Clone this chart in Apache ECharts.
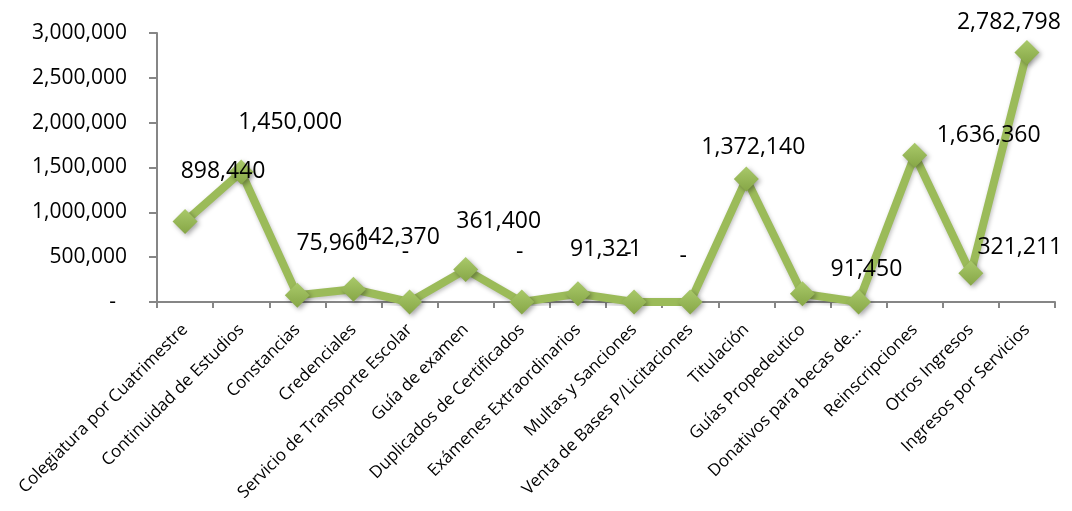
<!DOCTYPE html>
<html>
<head>
<meta charset="utf-8">
<script src="https://cdn.jsdelivr.net/npm/echarts@6/dist/echarts.min.js"></script>
<style>
html,body{margin:0;padding:0;background:#fff;}
#chart{width:1072px;height:511px;}
</style>
</head>
<body>
<div id="chart"></div>
<script>
const categories = [
  "Colegiatura por Cuatrimestre",
  "Continuidad de Estudios",
  "Constancias",
  "Credenciales",
  "Servicio de Transporte Escolar",
  "Guía de examen",
  "Duplicados de Certificados",
  "Exámenes Extraordinarios",
  "Multas y Sanciones",
  "Venta de Bases P/Licitaciones",
  "Titulación",
  "Guías Propedeutico",
  "Donativos para becas de...",
  "Reinscripciones",
  "Otros Ingresos",
  "Ingresos por Servicios"
];
const values = [898440, 1450000, 75960, 142370, 0, 361400, 0, 91321, 0, 0, 1372140, 91450, 0, 1636360, 321211, 2782798];
const yTicks = [0, 500000, 1000000, 1500000, 2000000, 2500000, 3000000];

// label placement (style only, as in the original Excel rendering)
const labelShift = [[38,-50],[49,-50],[35,-52],[44,-52],[-4,-50],[33,-48],[-2,-50],[28,-44],[-6,-49],[-7,-46],[7,-32],[64,-24],[1,-42],[74,-20],[49,-26],[-18,-30]];

const fmt = v => v === 0 ? '-' : Math.round(v).toLocaleString('en-US');
const FONT = 'Open Sans';

const chart = echarts.init(document.getElementById('chart'), null, {renderer: 'canvas'});
const green = '#9BBB59';
chart.setOption({
  animation: false,
  backgroundColor: '#ffffff',
  grid: {left: 157, right: 17, top: 33, bottom: 209, containLabel: false},
  xAxis: {
    type: 'category',
    data: categories,
    boundaryGap: true,
    axisLine: {lineStyle: {color: '#868686', width: 2}},
    axisTick: {show: true, alignWithLabel: false, length: 6, lineStyle: {color: '#868686', width: 2}},
    axisLabel: {interval: 0, rotate: 45, margin: 25, color: '#000', fontFamily: FONT, fontSize: 17}
  },
  yAxis: {
    type: 'value',
    min: yTicks[0],
    max: yTicks[yTicks.length - 1],
    interval: yTicks[1] - yTicks[0],
    splitLine: {show: false},
    axisLine: {show: true, lineStyle: {color: '#868686', width: 2}},
    axisTick: {show: true, length: 8, lineStyle: {color: '#868686', width: 2}},
    axisLabel: {
      margin: 30, color: '#000', fontFamily: FONT, fontSize: 21,
      formatter: v => v === 0 ? '-  ' : fmt(v)
    }
  },
  series: [{
    type: 'line',
    data: values.map((v, i) => ({
      value: v,
      label: {offset: labelShift[i]}
    })),
    lineStyle: {color: green, width: 8, shadowColor: 'rgba(0,0,0,0.25)', shadowBlur: 4, shadowOffsetX: 1, shadowOffsetY: 2},
    symbol: 'diamond',
    symbolSize: 25,
    itemStyle: {
      color: new echarts.graphic.LinearGradient(0, 0, 0, 1, [
        {offset: 0, color: '#a9c96a'},
        {offset: 1, color: '#86a646'}
      ]),
      shadowColor: 'rgba(0,0,0,0.35)', shadowBlur: 5, shadowOffsetX: 2, shadowOffsetY: 2
    },
    label: {
      show: true,
      position: 'inside',
      color: '#000',
      fontFamily: FONT,
      fontSize: 23,
      formatter: p => fmt(p.value)
    },
    z: 3
  }]
});
</script>
</body>
</html>
